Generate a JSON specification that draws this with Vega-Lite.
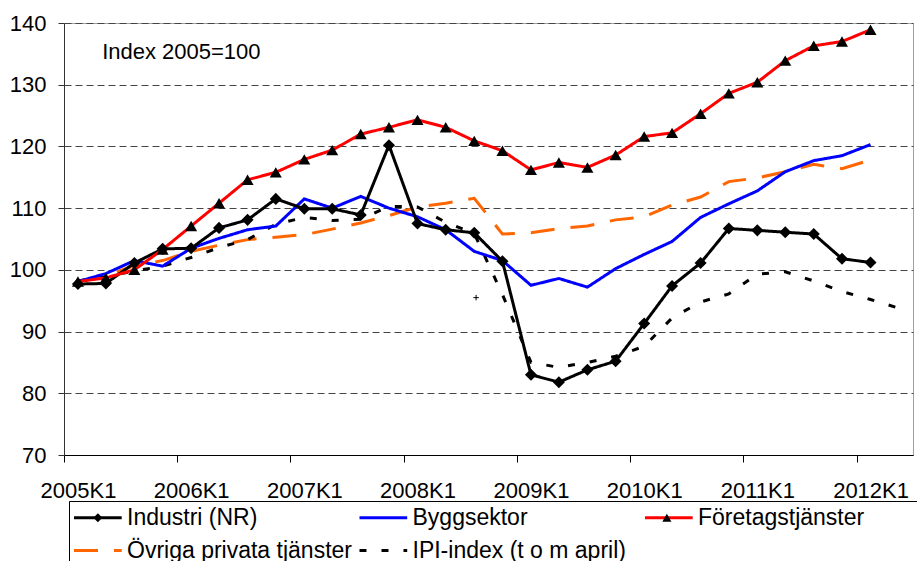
{
  "$schema": "https://vega.github.io/schema/vega-lite/v6.json",
  "width": 849,
  "height": 432,
  "autosize": "none",
  "padding": {"left": 64, "top": 23, "right": 4, "bottom": 106},
  "background": "white",
  "config": {"font": "Liberation Sans", "view": {"stroke": "#a0a0a0", "strokeWidth": 1}},
  "datasets": {
    "serier": [
      {"kvartal": "2005-02-15", "serie": "Övriga privata tjänster", "index": 98.2},
      {"kvartal": "2005-05-16", "serie": "Övriga privata tjänster", "index": 99.0},
      {"kvartal": "2005-08-16", "serie": "Övriga privata tjänster", "index": 100.7},
      {"kvartal": "2005-11-15", "serie": "Övriga privata tjänster", "index": 101.5},
      {"kvartal": "2006-02-15", "serie": "Övriga privata tjänster", "index": 103.0},
      {"kvartal": "2006-05-16", "serie": "Övriga privata tjänster", "index": 104.0},
      {"kvartal": "2006-08-16", "serie": "Övriga privata tjänster", "index": 104.9},
      {"kvartal": "2006-11-15", "serie": "Övriga privata tjänster", "index": 105.3},
      {"kvartal": "2007-02-15", "serie": "Övriga privata tjänster", "index": 105.7},
      {"kvartal": "2007-05-16", "serie": "Övriga privata tjänster", "index": 106.6},
      {"kvartal": "2007-08-16", "serie": "Övriga privata tjänster", "index": 107.6},
      {"kvartal": "2007-11-15", "serie": "Övriga privata tjänster", "index": 108.8},
      {"kvartal": "2008-02-15", "serie": "Övriga privata tjänster", "index": 110.2},
      {"kvartal": "2008-05-16", "serie": "Övriga privata tjänster", "index": 110.8},
      {"kvartal": "2008-08-16", "serie": "Övriga privata tjänster", "index": 111.6},
      {"kvartal": "2008-11-15", "serie": "Övriga privata tjänster", "index": 105.8},
      {"kvartal": "2009-02-15", "serie": "Övriga privata tjänster", "index": 106.0},
      {"kvartal": "2009-05-16", "serie": "Övriga privata tjänster", "index": 106.7},
      {"kvartal": "2009-08-16", "serie": "Övriga privata tjänster", "index": 107.1},
      {"kvartal": "2009-11-15", "serie": "Övriga privata tjänster", "index": 108.1},
      {"kvartal": "2010-02-15", "serie": "Övriga privata tjänster", "index": 108.6},
      {"kvartal": "2010-05-16", "serie": "Övriga privata tjänster", "index": 110.5},
      {"kvartal": "2010-08-16", "serie": "Övriga privata tjänster", "index": 111.8},
      {"kvartal": "2010-11-15", "serie": "Övriga privata tjänster", "index": 114.3},
      {"kvartal": "2011-02-15", "serie": "Övriga privata tjänster", "index": 114.9},
      {"kvartal": "2011-05-16", "serie": "Övriga privata tjänster", "index": 115.9},
      {"kvartal": "2011-08-16", "serie": "Övriga privata tjänster", "index": 117.1},
      {"kvartal": "2011-11-15", "serie": "Övriga privata tjänster", "index": 116.4},
      {"kvartal": "2012-02-15", "serie": "Övriga privata tjänster", "index": 117.8},

      {"kvartal": "2005-02-15", "serie": "IPI-index (t o m april)", "index": 98.2},
      {"kvartal": "2005-05-16", "serie": "IPI-index (t o m april)", "index": 98.9},
      {"kvartal": "2005-08-16", "serie": "IPI-index (t o m april)", "index": 99.8},
      {"kvartal": "2005-11-15", "serie": "IPI-index (t o m april)", "index": 100.6},
      {"kvartal": "2006-02-15", "serie": "IPI-index (t o m april)", "index": 102.0},
      {"kvartal": "2006-05-16", "serie": "IPI-index (t o m april)", "index": 103.6},
      {"kvartal": "2006-08-16", "serie": "IPI-index (t o m april)", "index": 104.9},
      {"kvartal": "2006-11-15", "serie": "IPI-index (t o m april)", "index": 107.4},
      {"kvartal": "2007-02-15", "serie": "IPI-index (t o m april)", "index": 108.5},
      {"kvartal": "2007-05-16", "serie": "IPI-index (t o m april)", "index": 108.0},
      {"kvartal": "2007-08-16", "serie": "IPI-index (t o m april)", "index": 108.2},
      {"kvartal": "2007-11-15", "serie": "IPI-index (t o m april)", "index": 110.3},
      {"kvartal": "2008-02-15", "serie": "IPI-index (t o m april)", "index": 110.2},
      {"kvartal": "2008-05-16", "serie": "IPI-index (t o m april)", "index": 107.7},
      {"kvartal": "2008-08-16", "serie": "IPI-index (t o m april)", "index": 105.9},
      {"kvartal": "2008-11-15", "serie": "IPI-index (t o m april)", "index": 96.0},
      {"kvartal": "2009-02-15", "serie": "IPI-index (t o m april)", "index": 85.0},
      {"kvartal": "2009-05-16", "serie": "IPI-index (t o m april)", "index": 84.2},
      {"kvartal": "2009-08-16", "serie": "IPI-index (t o m april)", "index": 85.0},
      {"kvartal": "2009-11-15", "serie": "IPI-index (t o m april)", "index": 86.0},
      {"kvartal": "2010-02-15", "serie": "IPI-index (t o m april)", "index": 87.6},
      {"kvartal": "2010-05-16", "serie": "IPI-index (t o m april)", "index": 92.2},
      {"kvartal": "2010-08-16", "serie": "IPI-index (t o m april)", "index": 94.8},
      {"kvartal": "2010-11-15", "serie": "IPI-index (t o m april)", "index": 96.1},
      {"kvartal": "2011-02-15", "serie": "IPI-index (t o m april)", "index": 99.3},
      {"kvartal": "2011-05-16", "serie": "IPI-index (t o m april)", "index": 99.7},
      {"kvartal": "2011-08-16", "serie": "IPI-index (t o m april)", "index": 98.2},
      {"kvartal": "2011-11-15", "serie": "IPI-index (t o m april)", "index": 96.5},
      {"kvartal": "2012-02-15", "serie": "IPI-index (t o m april)", "index": 95.2},
      {"kvartal": "2012-05-16", "serie": "IPI-index (t o m april)", "index": 93.8},

      {"kvartal": "2005-02-15", "serie": "Byggsektor", "index": 98.1},
      {"kvartal": "2005-05-16", "serie": "Byggsektor", "index": 99.4},
      {"kvartal": "2005-08-16", "serie": "Byggsektor", "index": 101.5},
      {"kvartal": "2005-11-15", "serie": "Byggsektor", "index": 100.6},
      {"kvartal": "2006-02-15", "serie": "Byggsektor", "index": 103.5},
      {"kvartal": "2006-05-16", "serie": "Byggsektor", "index": 105.1},
      {"kvartal": "2006-08-16", "serie": "Byggsektor", "index": 106.5},
      {"kvartal": "2006-11-15", "serie": "Byggsektor", "index": 107.1},
      {"kvartal": "2007-02-15", "serie": "Byggsektor", "index": 111.5},
      {"kvartal": "2007-05-16", "serie": "Byggsektor", "index": 110.0},
      {"kvartal": "2007-08-16", "serie": "Byggsektor", "index": 111.9},
      {"kvartal": "2007-11-15", "serie": "Byggsektor", "index": 110.0},
      {"kvartal": "2008-02-15", "serie": "Byggsektor", "index": 108.6},
      {"kvartal": "2008-05-16", "serie": "Byggsektor", "index": 106.5},
      {"kvartal": "2008-08-16", "serie": "Byggsektor", "index": 103.0},
      {"kvartal": "2008-11-15", "serie": "Byggsektor", "index": 101.5},
      {"kvartal": "2009-02-15", "serie": "Byggsektor", "index": 97.5},
      {"kvartal": "2009-05-16", "serie": "Byggsektor", "index": 98.6},
      {"kvartal": "2009-08-16", "serie": "Byggsektor", "index": 97.2},
      {"kvartal": "2009-11-15", "serie": "Byggsektor", "index": 100.2},
      {"kvartal": "2010-02-15", "serie": "Byggsektor", "index": 102.5},
      {"kvartal": "2010-05-16", "serie": "Byggsektor", "index": 104.6},
      {"kvartal": "2010-08-16", "serie": "Byggsektor", "index": 108.5},
      {"kvartal": "2010-11-15", "serie": "Byggsektor", "index": 110.7},
      {"kvartal": "2011-02-15", "serie": "Byggsektor", "index": 112.8},
      {"kvartal": "2011-05-16", "serie": "Byggsektor", "index": 115.9},
      {"kvartal": "2011-08-16", "serie": "Byggsektor", "index": 117.7},
      {"kvartal": "2011-11-15", "serie": "Byggsektor", "index": 118.5},
      {"kvartal": "2012-02-15", "serie": "Byggsektor", "index": 120.3},

      {"kvartal": "2005-02-15", "serie": "Industri (NR)", "markor": "Industri (NR)", "index": 97.7},
      {"kvartal": "2005-05-16", "serie": "Industri (NR)", "markor": "Industri (NR)", "index": 97.8},
      {"kvartal": "2005-08-16", "serie": "Industri (NR)", "markor": "Industri (NR)", "index": 101.1},
      {"kvartal": "2005-11-15", "serie": "Industri (NR)", "markor": "Industri (NR)", "index": 103.4},
      {"kvartal": "2006-02-15", "serie": "Industri (NR)", "markor": "Industri (NR)", "index": 103.5},
      {"kvartal": "2006-05-16", "serie": "Industri (NR)", "markor": "Industri (NR)", "index": 106.8},
      {"kvartal": "2006-08-16", "serie": "Industri (NR)", "markor": "Industri (NR)", "index": 108.1},
      {"kvartal": "2006-11-15", "serie": "Industri (NR)", "markor": "Industri (NR)", "index": 111.5},
      {"kvartal": "2007-02-15", "serie": "Industri (NR)", "markor": "Industri (NR)", "index": 109.9},
      {"kvartal": "2007-05-16", "serie": "Industri (NR)", "markor": "Industri (NR)", "index": 109.9},
      {"kvartal": "2007-08-16", "serie": "Industri (NR)", "markor": "Industri (NR)", "index": 108.9},
      {"kvartal": "2007-11-15", "serie": "Industri (NR)", "markor": "Industri (NR)", "index": 120.2},
      {"kvartal": "2008-02-15", "serie": "Industri (NR)", "markor": "Industri (NR)", "index": 107.5},
      {"kvartal": "2008-05-16", "serie": "Industri (NR)", "markor": "Industri (NR)", "index": 106.5},
      {"kvartal": "2008-08-16", "serie": "Industri (NR)", "markor": "Industri (NR)", "index": 106.0},
      {"kvartal": "2008-11-15", "serie": "Industri (NR)", "markor": "Industri (NR)", "index": 101.4},
      {"kvartal": "2009-02-15", "serie": "Industri (NR)", "markor": "Industri (NR)", "index": 83.0},
      {"kvartal": "2009-05-16", "serie": "Industri (NR)", "markor": "Industri (NR)", "index": 81.8},
      {"kvartal": "2009-08-16", "serie": "Industri (NR)", "markor": "Industri (NR)", "index": 83.8},
      {"kvartal": "2009-11-15", "serie": "Industri (NR)", "markor": "Industri (NR)", "index": 85.2},
      {"kvartal": "2010-02-15", "serie": "Industri (NR)", "markor": "Industri (NR)", "index": 91.3},
      {"kvartal": "2010-05-16", "serie": "Industri (NR)", "markor": "Industri (NR)", "index": 97.4},
      {"kvartal": "2010-08-16", "serie": "Industri (NR)", "markor": "Industri (NR)", "index": 101.1},
      {"kvartal": "2010-11-15", "serie": "Industri (NR)", "markor": "Industri (NR)", "index": 106.7},
      {"kvartal": "2011-02-15", "serie": "Industri (NR)", "markor": "Industri (NR)", "index": 106.4},
      {"kvartal": "2011-05-16", "serie": "Industri (NR)", "markor": "Industri (NR)", "index": 106.1},
      {"kvartal": "2011-08-16", "serie": "Industri (NR)", "markor": "Industri (NR)", "index": 105.8},
      {"kvartal": "2011-11-15", "serie": "Industri (NR)", "markor": "Industri (NR)", "index": 101.8},
      {"kvartal": "2012-02-15", "serie": "Industri (NR)", "markor": "Industri (NR)", "index": 101.2},

      {"kvartal": "2005-02-15", "serie": "Företagstjänster", "markor": "Företagstjänster", "index": 98.1},
      {"kvartal": "2005-05-16", "serie": "Företagstjänster", "markor": "Företagstjänster", "index": 98.7},
      {"kvartal": "2005-08-16", "serie": "Företagstjänster", "markor": "Företagstjänster", "index": 100.0},
      {"kvartal": "2005-11-15", "serie": "Företagstjänster", "markor": "Företagstjänster", "index": 103.3},
      {"kvartal": "2006-02-15", "serie": "Företagstjänster", "markor": "Företagstjänster", "index": 107.1},
      {"kvartal": "2006-05-16", "serie": "Företagstjänster", "markor": "Företagstjänster", "index": 110.8},
      {"kvartal": "2006-08-16", "serie": "Företagstjänster", "markor": "Företagstjänster", "index": 114.6},
      {"kvartal": "2006-11-15", "serie": "Företagstjänster", "markor": "Företagstjänster", "index": 115.8},
      {"kvartal": "2007-02-15", "serie": "Företagstjänster", "markor": "Företagstjänster", "index": 117.9},
      {"kvartal": "2007-05-16", "serie": "Företagstjänster", "markor": "Företagstjänster", "index": 119.4},
      {"kvartal": "2007-08-16", "serie": "Företagstjänster", "markor": "Företagstjänster", "index": 122.0},
      {"kvartal": "2007-11-15", "serie": "Företagstjänster", "markor": "Företagstjänster", "index": 123.1},
      {"kvartal": "2008-02-15", "serie": "Företagstjänster", "markor": "Företagstjänster", "index": 124.3},
      {"kvartal": "2008-05-16", "serie": "Företagstjänster", "markor": "Företagstjänster", "index": 123.1},
      {"kvartal": "2008-08-16", "serie": "Företagstjänster", "markor": "Företagstjänster", "index": 120.9},
      {"kvartal": "2008-11-15", "serie": "Företagstjänster", "markor": "Företagstjänster", "index": 119.3},
      {"kvartal": "2009-02-15", "serie": "Företagstjänster", "markor": "Företagstjänster", "index": 116.2},
      {"kvartal": "2009-05-16", "serie": "Företagstjänster", "markor": "Företagstjänster", "index": 117.4},
      {"kvartal": "2009-08-16", "serie": "Företagstjänster", "markor": "Företagstjänster", "index": 116.6},
      {"kvartal": "2009-11-15", "serie": "Företagstjänster", "markor": "Företagstjänster", "index": 118.6},
      {"kvartal": "2010-02-15", "serie": "Företagstjänster", "markor": "Företagstjänster", "index": 121.6},
      {"kvartal": "2010-05-16", "serie": "Företagstjänster", "markor": "Företagstjänster", "index": 122.2},
      {"kvartal": "2010-08-16", "serie": "Företagstjänster", "markor": "Företagstjänster", "index": 125.3},
      {"kvartal": "2010-11-15", "serie": "Företagstjänster", "markor": "Företagstjänster", "index": 128.6},
      {"kvartal": "2011-02-15", "serie": "Företagstjänster", "markor": "Företagstjänster", "index": 130.4},
      {"kvartal": "2011-05-16", "serie": "Företagstjänster", "markor": "Företagstjänster", "index": 133.9},
      {"kvartal": "2011-08-16", "serie": "Företagstjänster", "markor": "Företagstjänster", "index": 136.3},
      {"kvartal": "2011-11-15", "serie": "Företagstjänster", "markor": "Företagstjänster", "index": 137.0},
      {"kvartal": "2012-02-15", "serie": "Företagstjänster", "markor": "Företagstjänster", "index": 138.9}
    ],
    "plus": [{"kvartal": "2008-08-22", "index": 95.5}],
    "note": [{"kvartal": "2005-05-04", "index": 134.2, "text": "Index 2005=100"}]
  },
  "layer": [
    {
      "data": {"name": "serier"},
      "mark": {"type": "line"},
      "encoding": {
        "x": {
          "field": "kvartal", "type": "temporal",
          "scale": {"type": "utc", "domain": [{"year": 2005, "month": 1, "date": 1, "utc": true}, {"year": 2012, "month": 7, "date": 1, "utc": true}]},
          "axis": {
            "title": null,
            "values": [{"year": 2005, "utc": true}, {"year": 2006, "utc": true}, {"year": 2007, "utc": true}, {"year": 2008, "utc": true}, {"year": 2009, "utc": true}, {"year": 2010, "utc": true}, {"year": 2011, "utc": true}, {"year": 2012, "utc": true}],
            "format": "%YK1",
            "labelOffset": 14,
            "labelFontSize": 22,
            "labelColor": "black",
            "labelPadding": 18,
            "labelFlush": false,
            "labelOverlap": false,
            "labelBound": false,
            "tickSize": 7,
            "tickColor": "black",
            "domainColor": "black",
            "grid": false
          }
        },
        "y": {
          "field": "index", "type": "quantitative",
          "scale": {"domain": [70, 140]},
          "axis": {
            "title": null,
            "values": [70, 80, 90, 100, 110, 120, 130, 140],
            "labelFontSize": 22,
            "labelColor": "black",
            "labelPadding": 12,
            "tickSize": 6,
            "tickColor": "#333333",
            "domainColor": "#333333",
            "grid": true,
            "gridColor": "#444444",
            "gridDash": [7, 4],
            "gridWidth": 1
          }
        },
        "color": {
          "field": "serie", "type": "nominal",
          "scale": {
            "domain": ["Industri (NR)", "Byggsektor", "Företagstjänster", "Övriga privata tjänster", "IPI-index (t o m april)"],
            "range": ["#000000", "#0000FF", "#FF0000", "#FF6600", "#000000"]
          },
          "legend": {
            "orient": "none", "legendX": 5, "legendY": 478, "direction": "horizontal",
            "columns": 3, "gridAlign": "all", "title": null,
            "labelFontSize": 23, "labelFont": "Liberation Sans", "labelColor": "black",
            "labelOffset": 30, "labelLimit": 0,
            "symbolType": "M-1.278,0H4.022", "symbolSize": 324, "symbolStrokeWidth": 3,
            "columnPadding": 0.5, "rowPadding": 9, "padding": 5,
            "fillColor": "white"
          }
        },
        "strokeDash": {
          "field": "serie", "type": "nominal",
          "scale": {
            "domain": ["Industri (NR)", "Byggsektor", "Företagstjänster", "Övriga privata tjänster", "IPI-index (t o m april)"],
            "range": [[1, 0], [1, 0], [1, 0], [24, 16], [7, 15]]
          }
        },
        "strokeWidth": {
          "field": "serie", "type": "nominal",
          "scale": {
            "domain": ["Industri (NR)", "Byggsektor", "Företagstjänster", "Övriga privata tjänster", "IPI-index (t o m april)"],
            "range": [3, 3, 3, 3, 4]
          },
          "legend": null
        }
      }
    },
    {
      "data": {"name": "serier"},
      "transform": [{"filter": {"field": "markor", "oneOf": ["Industri (NR)", "Företagstjänster"]}}],
      "mark": {"type": "point", "filled": true, "opacity": 1, "color": "black", "size": 145},
      "encoding": {
        "x": {"field": "kvartal", "type": "temporal"},
        "y": {"field": "index", "type": "quantitative"},
        "shape": {
          "field": "markor", "type": "nominal",
          "scale": {
            "domain": ["Industri (NR)", "Byggsektor", "Företagstjänster", "Övriga privata tjänster", "IPI-index (t o m april)", "-"],
            "range": ["diamond", "M0,0", "triangle-up", "M0,0", "M0,0", "M0,0H60"]
          },
          "legend": {
            "orient": "none", "legendX": 5, "legendY": 478, "direction": "horizontal",
            "values": ["Industri (NR)", "Byggsektor", "Företagstjänster", "Övriga privata tjänster", "IPI-index (t o m april)", "-"],
            "columns": 3, "gridAlign": "each", "title": null,
            "labelFontSize": 23, "labelFont": "Liberation Sans",
            "labelExpr": "''",
            "labelOffset": 30, "labelLimit": 0,
            "symbolSize": 81, "symbolStrokeWidth": 0, "symbolFillColor": "black", "symbolOpacity": 1,
            "symbolOffset": 12.35,
            "columnPadding": 218.5, "rowPadding": 9, "padding": 5,
            "strokeColor": "black",
            "zindex": 1
          }
        }
      }
    },
    {
      "data": {"name": "plus"},
      "mark": {"type": "point", "shape": "M-1,0H1M0,-1V1", "size": 30, "stroke": "black", "strokeWidth": 1, "filled": false, "opacity": 1},
      "encoding": {
        "x": {"field": "kvartal", "type": "temporal"},
        "y": {"field": "index", "type": "quantitative"}
      }
    },
    {
      "data": {"name": "note"},
      "mark": {"type": "text", "align": "left", "baseline": "alphabetic", "fontSize": 22, "color": "black"},
      "encoding": {
        "x": {"field": "kvartal", "type": "temporal"},
        "y": {"field": "index", "type": "quantitative"},
        "text": {"field": "text"}
      }
    }
  ]
}
